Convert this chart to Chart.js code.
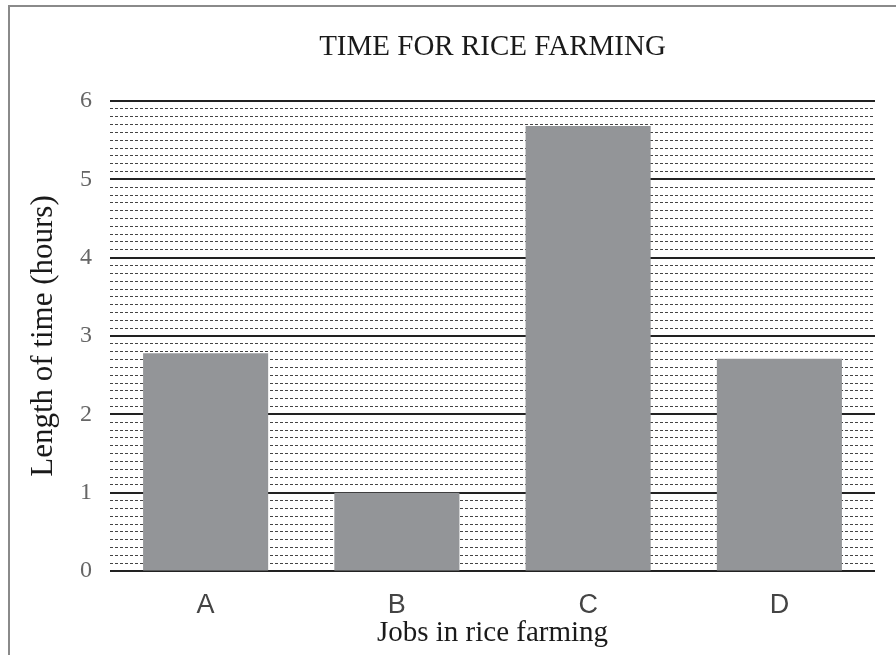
<!DOCTYPE html>
<html>
<head>
<meta charset="utf-8">
<script src="https://cdn.jsdelivr.net/npm/chart.js@4/dist/chart.umd.min.js"></script>
<style>
  html, body { margin: 0; padding: 0; background: #fff; }
  #wrap { position: relative; width: 896px; height: 655px; overflow: hidden; }
  #frame { position: absolute; left: 8px; top: 5px; width: 900px; height: 700px;
           border-left: 2px solid #8a8a8a; border-top: 2px solid #8a8a8a; pointer-events: none; }
</style>
</head>
<body>
<div id="wrap">
  <canvas id="riceChart" width="896" height="655"></canvas>
  <div id="frame"></div>
</div>
<script>
// data
const jobs = ['A', 'B', 'C', 'D'];
const hours = [2.78, 1.0, 5.68, 2.71];
const yMin = 0;
const yMax = 6;
const majorStep = 1;
const minorStep = 0.1;

const serif = "'Liberation Serif', 'Times New Roman', serif";
const sans = "'Liberation Sans', Arial, sans-serif";

const isWhole = v => Math.abs(v - Math.round(v)) < 1e-6;

const riceChart = new Chart(document.getElementById('riceChart'), {
    type: 'bar',
    data: {
        labels: jobs,
        datasets: [
            {
                label: 'Length of time',
                data: hours,
                backgroundColor: '#939598',
                borderWidth: 0,
                categoryPercentage: 1,
                barPercentage: 0.654
            }
        ]
    },
    options: {
        responsive: false,
        animation: false,
        layout: {
            padding: { left: 0, right: 21, top: 14, bottom: 7 }
        },
        plugins: {
            legend: { display: false },
            tooltip: { enabled: false }
        },
        scales: {
            // top axis only carries the chart title, so it centres over the plot
            xTop: {
                type: 'category',
                position: 'top',
                grid: { display: false, drawTicks: false },
                border: { display: false },
                ticks: { display: false },
                title: {
                    display: true,
                    text: 'TIME FOR RICE FARMING',
                    color: '#1a1a1a',
                    font: { family: serif, size: 29, lineHeight: 1 },
                    padding: { top: 19, bottom: 39 }
                }
            },
            x: {
                grid: { display: false, drawTicks: false },
                border: { display: false },
                ticks: {
                    color: '#444',
                    padding: 21,
                    font: { family: sans, size: 27, lineHeight: 1 }
                },
                title: {
                    display: true,
                    text: 'Jobs in rice farming',
                    color: '#1a1a1a',
                    font: { family: serif, size: 29, lineHeight: 1 },
                    padding: { top: -21, bottom: 0 }
                }
            },
            // dotted tenth-hour lines
            yMinor: {
                position: 'left',
                min: yMin,
                max: yMax,
                afterFit: scale => { scale.width = 0; },
                ticks: { display: false, stepSize: minorStep },
                grid: {
                    drawTicks: false,
                    lineWidth: 1,
                    color: ctx => isWhole(ctx.tick.value) ? 'rgba(0,0,0,0)' : '#444'
                },
                border: { display: false, dash: [3, 2] }
            },
            y: {
                position: 'left',
                min: yMin,
                max: yMax,
                ticks: {
                    stepSize: majorStep,
                    color: '#666',
                    padding: 18,
                    font: { family: serif, size: 24 }
                },
                grid: {
                    drawTicks: false,
                    lineWidth: 2,
                    color: '#222'
                },
                border: { display: false },
                title: {
                    display: true,
                    text: 'Length of time (hours)',
                    color: '#1a1a1a',
                    font: { family: serif, size: 31, lineHeight: 1 },
                    padding: { top: 28, bottom: 3 }
                }
            }
        }
    }
});
</script>
</body>
</html>
